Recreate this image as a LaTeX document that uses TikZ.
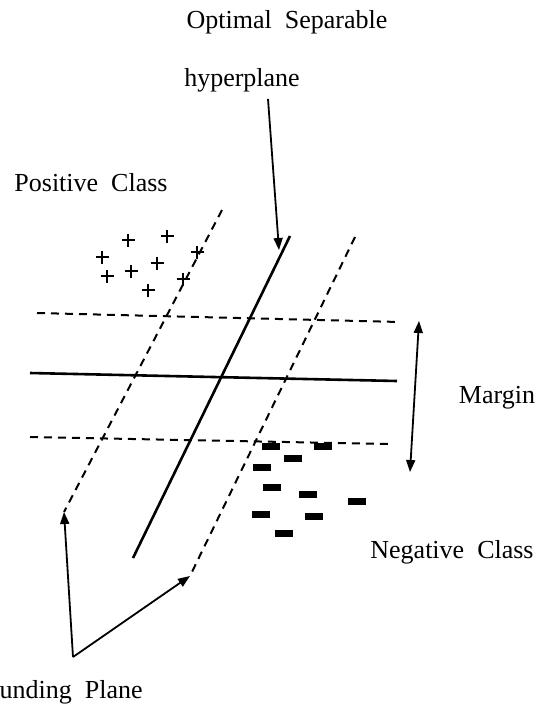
\documentclass[tikz,border=0pt]{standalone}
\usepackage{fontspec}
\setmainfont{Liberation Serif}
\usetikzlibrary{arrows.meta}

\begin{document}
\begin{tikzpicture}[
  x=0.5pt, y=-0.5pt,
  every node/.style={font=\fontsize{13}{15}\selectfont},
  plane/.style={line width=1.3pt},
  bound/.style={line width=1pt, dash pattern=on 4pt off 3pt},
  pointer/.style={-{Triangle[length=6pt,width=4.5pt]}, line width=0.9pt},
  both/.style={{Triangle[length=6pt,width=4.5pt]}-{Triangle[length=6pt,width=4.5pt]}, line width=0.9pt},
  plusmark/.style={line width=1.3pt},
]
\useasboundingbox (0,0) rectangle (546,708);
\clip (0,0) rectangle (546,708);

% Labels
\node (title) at (287,22) {Optimal\ \ Separable};
\node (hyp) at (242,80) {hyperplane};
\node (pos) at (91,183) {Positive\ \ Class};
\node (margin) at (497,398) {Margin};
\node (neg) at (452,552) {Negative\ \ Class};
\node[anchor=east, inner sep=0pt] (bound) at (143,692) {Bounding\ \ Plane};

% Separating hyperplane and bounding planes
\draw[plane] (290,236) -- (133,558);
\coordinate (hypTip) at (279,250);
\draw[bound] (222,210) -- (64,512) coordinate (leftEnd);
\draw[bound] (355,237) -- (190,576) coordinate (rightEnd);

% Horizontal planes
\draw[bound] (37,313) -- (400,322);
\draw[plane] (30,373) -- (397,381);
\draw[bound] (30,437) -- (388,444);

% Margin
\coordinate (mTop) at (419,321);
\coordinate (mBot) at (410,472);
\draw[both] (mTop) -- (mBot);

% Positive points
\foreach \p in {(128,240),(167,236),(102,257),(197,252),(107,276),(131,271),(157,263),(183,279),(148,290)}
  \draw[plusmark] \p +(-6.5,0) -- +(6.5,0) \p +(0,-6.5) -- +(0,6.5);

% Negative points
\foreach \p in {(271,446),(323,446),(293,458),(262,467),(272,487),(308,494),(357,501),(261,514),(314,516),(284,533)}
  \fill \p +(-9,-3.5) rectangle +(9,3.5);

% Arrows
\draw[pointer] ([xshift=13pt]hyp.south) -- (hypTip);
\coordinate (bpVertex) at (73,657);
\draw[pointer] (bpVertex) -- (leftEnd);
\draw[pointer] (bpVertex) -- (rightEnd);

\end{tikzpicture}
\end{document}
